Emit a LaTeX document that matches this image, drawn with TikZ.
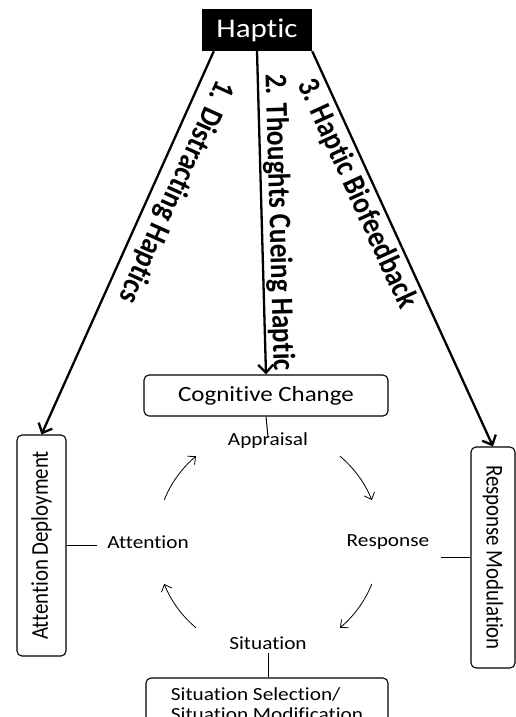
\documentclass[tikz,border=0pt]{standalone}
\usepackage{fontspec}
\setmainfont{Carlito}[FakeStretch=1.15, Ligatures=NoCommon]
\newfontfamily\tallfont{Carlito}[FakeStretch=0.87, Ligatures=NoCommon]
\usetikzlibrary{arrows.meta}

\begin{document}
\begin{tikzpicture}[x=1pt, y=1pt,
	box/.style={draw, rounded corners=5pt, line width=1.1pt, inner sep=0pt},
	word/.style={font=\fontsize{18.5}{20}\selectfont},
	upword/.style={font=\tallfont\fontsize{24}{24}\selectfont},
	tag/.style={font=\tallfont\fontsize{31.4}{31.4}\selectfont\bfseries, sloped, allow upside down, inner xsep=1pt, inner ysep=1.5pt},
	feed/.style={line width=2.3pt, -{Straight Barb[length=8pt, width=15pt]}},
	cyc/.style={line width=0.8pt, -{Straight Barb[length=6pt, width=11pt]}}]
\useasboundingbox (0,0) rectangle (516,-717);
\path (257,-30) node[fill=black, text=white, minimum width=110pt, minimum height=42pt, font=\fontsize{27}{27}\selectfont] (haptic) {Haptic}
		(266,-395.5) node[box, minimum width=244pt, minimum height=41pt, font=\fontsize{21.7}{21.7}\selectfont] (cog) {Cognitive Change}
		(41.5,-545.5) node[box, upword, rotate=90, minimum width=221pt, minimum height=49pt] (ad) {Attention Deployment}
		(493,-557.5) node[box, upword, rotate=-90, minimum width=221pt, minimum height=44pt] (rm) {Response Modulation}
		(267,-704) node[box, word, minimum width=242pt, minimum height=52pt, align=left] (sss) {Situation Selection/\\Situation Modification}
		(268,-441) node[word] (apr) {Appraisal}
		(148,-542) node[word] (att) {Attention}
		(388,-542) node[word] (resp) {Response}
		(268,-643) node[word] (sit) {Situation}
		(268,-542) coordinate (hub);

\draw[feed] ([xshift=12pt]haptic.south west) -- (ad.east) node[tag, pos=0.05, anchor=south west, inner ysep=8pt] {1. Distracting Haptics};
\draw[feed] (haptic.south) -- (cog.north) node[tag, pos=0.065, anchor=south west] {2. Thoughts Cueing Haptic};
\draw[feed] (haptic.south east) -- (rm.west) node[tag, pos=0.05, anchor=north west, inner ysep=4pt] {3. Haptic Biofeedback};

\draw[line width=1pt] (cog.south) -- ([yshift=4pt]apr.center);
\draw[line width=1pt, shorten >=7pt] (ad.south) -- (ad.south -| att.west);
\draw[line width=1pt, shorten >=8pt] (rm.south) -- (rm.south -| resp.east);
\draw[line width=1pt] (sit.south) -- (sit.south |- sss.north);

\draw[cyc] ([shift={(158:112pt)}]hub) arc[start angle=158, end angle=130, radius=112pt];
\draw[cyc] ([shift={(50:112pt)}]hub) arc[start angle=50, end angle=22, radius=112pt];
\draw[cyc] ([shift={(-22:112pt)}]hub) arc[start angle=-22, end angle=-50, radius=112pt];
\draw[cyc] ([shift={(-130:112pt)}]hub) arc[start angle=-130, end angle=-158, radius=112pt];
\end{tikzpicture}
\end{document}
